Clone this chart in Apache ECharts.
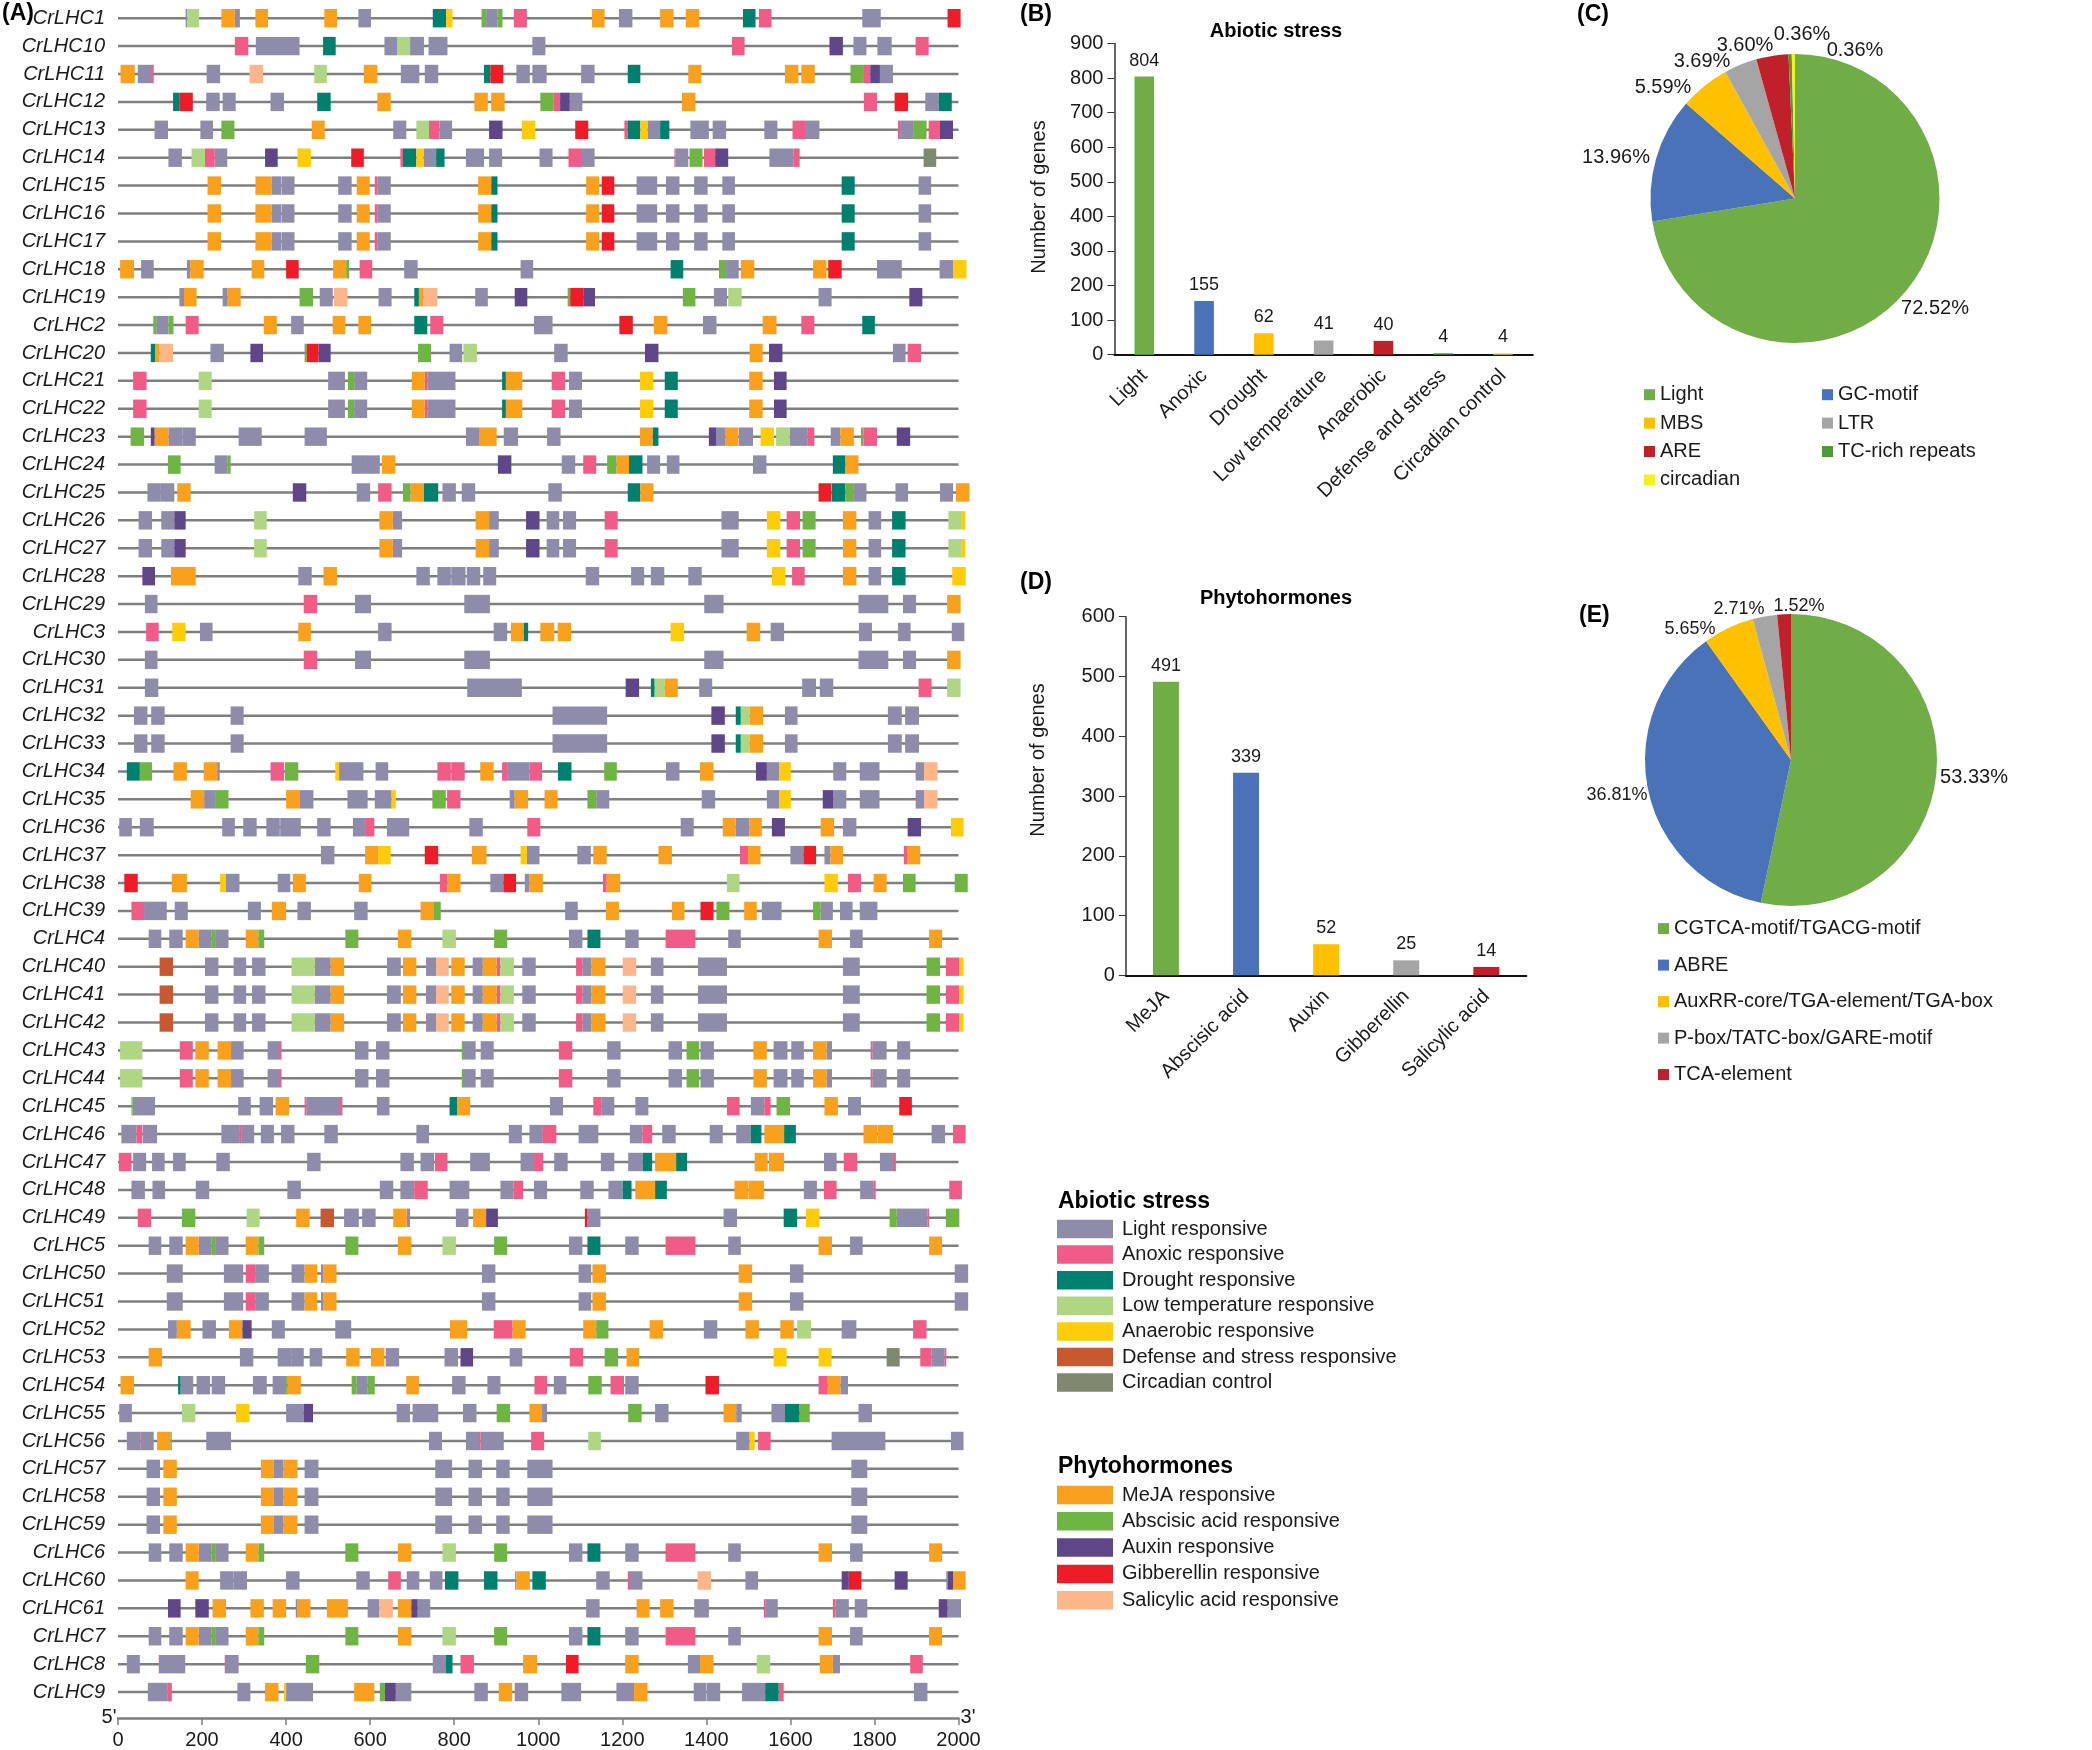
<!DOCTYPE html>
<html><head><meta charset="utf-8">
<style>html,body{margin:0;padding:0;background:#fff}#c{width:2092px;height:1750px}</style>
<script src="https://cdn.jsdelivr.net/npm/echarts@6/dist/echarts.min.js"></script>
</head><body><div id="c"></div>
<script>
// motif classes
const L=0,A=1,D=2,T=3,N=4,F=5,C=6,M=7,B=8,X=9,G=10,S=11;
const motifNames=['Light responsive','Anoxic responsive','Drought responsive','Low temperature responsive','Anaerobic responsive','Defense and stress responsive','Circadian control','MeJA responsive','Abscisic acid responsive','Auxin responsive','Gibberellin responsive','Salicylic acid responsive'];
const motifColors=['#8E8BAB','#F05C87','#00806F','#AFD682','#FFCC0A','#C8582F','#80886F','#F9A01D','#6FB544','#5F4689','#ED1C27','#FDB68A'];
const abioticNames=motifNames.slice(0,7), hormoneNames=motifNames.slice(7);

const CrLHC1=[[L,161,165],[T,165,193],[M,246,278],[L,278,290],[M,327,357],[M,491,521],[L,572,602],[D,749,781],[N,781,796],[B,865,876],[L,876,903],[B,903,915],[A,942,973],[M,1128,1158],[L,1192,1224],[M,1290,1322],[M,1351,1383],[D,1487,1517],[A,1525,1555],[L,1771,1815],[G,1974,2005]];
const CrLHC10=[[A,278,310],[L,328,432],[D,488,518],[L,634,664],[T,664,695],[L,695,728],[L,739,784],[L,986,1017],[A,1461,1491],[X,1693,1725],[L,1750,1781],[L,1807,1841],[A,1898,1929]];
const CrLHC11=[[M,6,40],[L,47,81],[A,81,85],[L,211,243],[S,313,345],[T,467,497],[M,585,617],[L,673,717],[L,730,762],[D,871,886],[G,886,917],[L,948,980],[L,986,1020],[L,1102,1134],[D,1213,1243],[M,1357,1388],[M,1587,1619],[M,1626,1658],[B,1743,1775],[A,1775,1790],[X,1790,1813],[L,1813,1844]];
const CrLHC12=[[D,131,147],[G,147,178],[L,210,242],[L,249,280],[L,363,395],[D,474,506],[M,617,649],[M,848,880],[M,888,920],[B,1005,1037],[A,1037,1052],[X,1052,1075],[L,1075,1105],[M,1342,1374],[A,1775,1806],[G,1848,1880],[L,1921,1953],[D,1953,1984]];
const CrLHC13=[[L,87,119],[L,196,226],[B,246,277],[M,461,492],[L,655,686],[T,710,740],[A,740,765],[L,765,795],[X,883,915],[N,961,993],[G,1088,1119],[A,1205,1213],[D,1213,1243],[N,1243,1260],[L,1260,1290],[D,1290,1312],[L,1362,1406],[L,1415,1447],[L,1538,1569],[A,1605,1637],[L,1637,1669],[A,1856,1861],[L,1861,1892],[B,1892,1924],[A,1929,1956],[X,1956,1987]];
const CrLHC14=[[L,120,152],[T,175,207],[A,207,230],[L,230,260],[X,350,380],[N,427,459],[G,555,585],[A,672,678],[D,678,710],[N,710,727],[L,727,757],[D,757,777],[L,828,871],[L,883,914],[L,1003,1034],[A,1072,1104],[L,1104,1134],[A,1324,1327],[L,1327,1357],[B,1360,1391],[A,1394,1421],[X,1421,1452],[L,1550,1607],[A,1607,1622],[C,1917,1947]];
const CrLHC15=[[M,213,245],[M,327,366],[L,366,388],[L,389,420],[L,524,556],[M,568,599],[A,611,617],[L,617,649],[M,857,888],[D,888,903],[M,1114,1145],[G,1151,1181],[L,1234,1283],[L,1304,1336],[L,1371,1403],[L,1438,1468],[D,1722,1753],[L,1905,1935]];
const CrLHC16=CrLHC15, CrLHC17=CrLHC15;
const CrLHC18=[[M,5,38],[L,55,85],[L,164,172],[M,172,204],[M,318,348],[G,400,430],[M,512,543],[B,543,550],[A,575,605],[L,681,713],[L,958,988],[D,1315,1345],[B,1430,1447],[L,1447,1477],[M,1482,1514],[M,1654,1686],[G,1690,1722],[L,1806,1865],[L,1955,1987],[N,1987,2019]];
const CrLHC19=[[L,146,157],[M,157,187],[L,249,261],[M,261,292],[B,432,464],[L,480,511],[S,514,546],[L,620,651],[D,705,716],[M,716,727],[S,727,760],[L,850,880],[X,944,974],[B,1070,1076],[G,1076,1107],[X,1107,1135],[B,1344,1374],[L,1418,1449],[T,1452,1484],[L,1667,1698],[X,1883,1914]];
const CrLHC2=[[B,84,91],[L,91,120],[B,120,132],[A,161,192],[M,347,378],[L,412,442],[M,511,541],[M,572,602],[D,705,736],[A,743,774],[L,990,1034],[G,1193,1225],[M,1275,1307],[L,1392,1424],[M,1534,1567],[A,1626,1657],[D,1771,1801]];
const CrLHC20=[[D,78,88],[M,88,99],[S,99,131],[L,220,252],[X,315,345],[B,444,449],[G,449,477],[X,477,506],[B,714,745],[L,789,819],[T,822,854],[L,1038,1070],[X,1254,1286],[M,1503,1534],[X,1549,1581],[L,1844,1874],[A,1879,1911]];
const CrLHC21=[[A,36,68],[T,192,223],[L,500,540],[B,547,562],[L,562,593],[M,699,730],[A,730,737],[L,737,803],[D,914,923],[M,923,962],[A,1032,1064],[L,1073,1104],[N,1242,1274],[D,1301,1332],[M,1502,1534],[X,1561,1591]];
const CrLHC22=CrLHC21;
const CrLHC23=[[B,30,62],[X,78,87],[M,87,120],[L,120,154],[L,154,185],[L,287,342],[L,444,497],[L,828,859],[M,859,901],[L,918,952],[L,1021,1053],[M,1242,1272],[D,1272,1286],[X,1406,1423],[L,1423,1446],[M,1446,1476],[L,1477,1511],[N,1529,1561],[T,1566,1598],[L,1598,1640],[A,1640,1657],[L,1696,1719],[M,1719,1751],[B,1768,1774],[A,1774,1806],[X,1853,1885]];
const CrLHC24=[[B,119,149],[L,230,260],[B,260,268],[L,556,590],[L,590,623],[M,628,660],[X,904,936],[L,1056,1088],[A,1107,1138],[B,1164,1186],[M,1186,1216],[D,1216,1248],[L,1259,1290],[L,1306,1336],[L,1511,1543],[D,1701,1731],[M,1731,1762]];
const CrLHC25=[[L,70,102],[L,102,134],[M,141,173],[X,416,448],[L,568,600],[A,619,651],[B,678,696],[M,696,728],[D,728,762],[L,772,804],[L,818,850],[L,1024,1056],[D,1213,1243],[M,1243,1274],[G,1667,1698],[D,1699,1731],[B,1731,1751],[L,1751,1781],[L,1850,1880],[L,1956,1987],[M,1994,2026]];
const CrLHC26=[[L,49,81],[L,103,134],[X,134,161],[T,324,354],[M,622,654],[L,654,676],[M,851,883],[L,883,906],[X,971,1003],[L,1020,1050],[L,1059,1090],[A,1158,1189],[L,1436,1477],[N,1544,1576],[A,1591,1623],[B,1629,1660],[M,1725,1757],[L,1786,1816],[D,1842,1874],[T,1976,2008],[N,2008,2016]];
const CrLHC27=CrLHC26;
const CrLHC28=[[X,58,88],[M,126,185],[L,429,461],[M,489,521],[L,710,742],[L,760,792],[L,793,827],[L,830,862],[L,869,900],[L,1113,1145],[L,1221,1252],[L,1268,1300],[L,1357,1389],[N,1556,1588],[A,1604,1634],[M,1725,1757],[L,1786,1816],[D,1842,1874],[N,1985,2017]];
const CrLHC30=[[L,64,94],[A,442,474],[L,564,602],[L,824,885],[L,1395,1441],[L,1762,1833],[L,1868,1899],[M,1973,2005]];
const CrLHC29=CrLHC30;
const CrLHC3=[[A,67,97],[N,129,161],[L,195,225],[M,429,459],[L,619,651],[L,894,926],[M,935,965],[D,965,976],[M,1005,1038],[M,1046,1078],[N,1315,1347],[M,1496,1528],[L,1553,1585],[L,1763,1794],[L,1856,1886],[L,1984,2014]];
const CrLHC31=[[L,64,96],[L,831,961],[X,1208,1240],[D,1268,1277],[T,1277,1301],[M,1301,1332],[L,1383,1414],[L,1628,1661],[L,1670,1702],[A,1905,1936],[T,1973,2005]];
const CrLHC32=[[L,38,70],[L,79,111],[L,268,299],[L,1034,1164],[X,1412,1444],[D,1470,1482],[T,1482,1503],[M,1503,1535],[L,1587,1617],[L,1832,1865],[L,1873,1906]];
const CrLHC33=CrLHC32;
const CrLHC34=[[D,21,52],[B,52,81],[M,132,164],[M,204,236],[L,236,242],[A,363,395],[B,397,429],[N,517,526],[L,526,584],[L,613,643],[A,760,792],[A,793,825],[M,862,894],[A,914,926],[L,926,979],[A,979,1009],[D,1047,1079],[B,1157,1187],[L,1304,1336],[M,1385,1417],[X,1518,1544],[L,1544,1573],[N,1573,1601],[L,1702,1733],[L,1765,1812],[L,1898,1918],[S,1918,1950]];
const CrLHC35=[[M,173,205],[L,205,231],[B,231,263],[M,400,433],[L,433,465],[L,546,594],[L,611,651],[N,651,661],[B,748,780],[A,783,815],[L,932,944],[M,944,976],[M,1015,1046],[B,1117,1138],[L,1138,1169],[L,1389,1421],[L,1544,1573],[N,1573,1601],[X,1677,1702],[L,1702,1733],[L,1765,1812],[L,1898,1918],[S,1918,1950]];
const CrLHC36=[[L,3,33],[L,52,85],[L,248,278],[L,298,330],[L,353,385],[L,386,435],[L,474,506],[L,559,590],[A,590,610],[L,640,693],[L,836,868],[A,974,1005],[L,1339,1370],[M,1439,1470],[L,1470,1502],[M,1502,1532],[X,1556,1587],[M,1672,1704],[L,1725,1757],[X,1879,1911],[N,1982,2012]];
const CrLHC37=[[L,483,515],[M,588,619],[N,619,649],[G,730,762],[M,842,877],[N,958,973],[L,973,1003],[L,1093,1125],[M,1131,1163],[M,1286,1318],[A,1480,1499],[M,1499,1529],[L,1600,1631],[G,1631,1661],[L,1681,1695],[M,1695,1725],[A,1870,1879],[M,1879,1909]];
const CrLHC38=[[G,15,47],[M,128,164],[N,243,257],[L,257,289],[L,380,410],[M,416,447],[M,573,603],[A,766,784],[M,784,815],[L,886,917],[G,917,947],[L,968,979],[M,979,1011],[A,1154,1163],[M,1163,1195],[T,1449,1479],[N,1681,1713],[A,1737,1768],[M,1798,1829],[B,1868,1898],[B,1991,2022]];
const CrLHC39=[[A,32,62],[L,62,116],[L,135,166],[L,309,340],[M,366,400],[L,427,459],[L,562,594],[M,720,752],[B,752,768],[L,1064,1094],[M,1161,1192],[M,1318,1348],[G,1386,1417],[B,1424,1455],[M,1490,1520],[L,1532,1579],[B,1654,1672],[L,1672,1701],[L,1718,1748],[L,1765,1807]];
const CrLHC4=[[L,73,103],[L,122,154],[M,161,192],[L,192,223],[B,223,233],[L,233,263],[M,304,334],[B,334,348],[B,541,572],[M,666,698],[T,772,804],[B,895,926],[L,1073,1105],[D,1117,1148],[L,1207,1239],[A,1303,1374],[L,1452,1482],[M,1667,1699],[L,1742,1772],[M,1930,1961]];
const CrLHC5=CrLHC4, CrLHC6=CrLHC4, CrLHC7=CrLHC4;
const CrLHC40=[[F,99,131],[L,207,239],[L,275,305],[L,319,351],[T,413,468],[L,468,506],[M,506,538],[L,640,673],[M,678,710],[L,733,757],[S,757,787],[M,793,825],[L,844,868],[M,868,901],[A,901,910],[T,910,942],[L,962,994],[A,1090,1105],[L,1105,1126],[M,1126,1160],[S,1201,1233],[L,1268,1298],[L,1380,1449],[L,1725,1765],[B,1924,1956],[A,1970,2002],[N,2002,2012]];
const CrLHC41=CrLHC40, CrLHC42=CrLHC40;
const CrLHC43=[[T,5,58],[A,147,178],[M,184,216],[M,237,269],[L,269,299],[L,356,383],[A,383,389],[L,564,596],[L,614,646],[B,818,821],[L,821,851],[L,863,894],[A,1049,1081],[L,1164,1196],[L,1310,1342],[B,1353,1383],[L,1386,1418],[M,1512,1544],[L,1560,1593],[L,1602,1632],[M,1654,1686],[L,1686,1699],[A,1791,1795],[L,1795,1829],[L,1854,1885]];
const CrLHC44=CrLHC43;
const CrLHC45=[[B,32,35],[L,35,88],[L,286,316],[L,337,369],[M,375,407],[A,444,448],[L,448,526],[A,526,534],[L,616,646],[D,789,807],[M,807,838],[L,1028,1059],[A,1131,1151],[L,1151,1181],[L,1231,1262],[A,1449,1479],[L,1506,1538],[A,1538,1553],[B,1567,1599],[M,1681,1713],[L,1737,1768],[G,1859,1889]];
const CrLHC46=[[L,8,44],[A,44,58],[L,59,93],[L,246,290],[A,290,293],[L,293,324],[L,340,371],[L,388,420],[L,491,523],[L,710,740],[L,930,961],[L,979,1011],[A,1011,1043],[L,1096,1143],[L,1218,1248],[A,1248,1271],[L,1295,1327],[L,1408,1439],[L,1471,1506],[D,1506,1531],[M,1538,1585],[D,1585,1613],[M,1774,1806],[M,1807,1844],[L,1936,1968],[A,1987,2017]];
const CrLHC47=[[A,2,32],[L,36,67],[L,81,111],[L,131,161],[L,234,266],[L,450,482],[L,672,704],[L,720,752],[A,754,784],[L,838,885],[L,958,990],[A,990,1012],[L,1038,1070],[L,1149,1181],[L,1214,1249],[D,1249,1271],[M,1278,1328],[D,1328,1354],[M,1515,1546],[M,1549,1585],[L,1680,1710],[A,1727,1759],[L,1813,1844],[A,1844,1851]];
const CrLHC48=[[L,32,64],[L,82,112],[L,185,217],[L,403,435],[L,623,655],[L,672,705],[A,705,737],[L,789,836],[L,910,941],[A,941,964],[L,990,1021],[L,1100,1132],[L,1167,1201],[D,1201,1222],[M,1231,1278],[D,1278,1306],[M,1467,1499],[M,1500,1537],[L,1632,1663],[A,1680,1710],[L,1766,1797],[A,1797,1803],[A,1978,2008]];
const CrLHC49=[[A,47,79],[B,152,184],[T,306,337],[M,424,456],[F,482,514],[L,538,573],[L,581,613],[M,655,687],[L,687,695],[L,804,834],[M,845,876],[X,876,904],[G,1111,1117],[L,1117,1148],[L,1441,1473],[D,1584,1616],[N,1637,1669],[B,1836,1853],[L,1853,1926],[A,1926,1930],[B,1970,2002]];
const CrLHC50=[[L,116,154],[L,252,298],[A,304,328],[L,328,359],[L,413,444],[M,444,474],[L,483,488],[M,488,520],[L,866,898],[L,1096,1126],[M,1129,1161],[M,1477,1509],[L,1599,1631],[L,1991,2023]];
const CrLHC51=CrLHC50;
const CrLHC52=[[L,119,140],[M,140,173],[L,201,233],[M,264,296],[X,296,318],[L,366,397],[L,517,555],[M,790,831],[A,894,939],[M,939,970],[M,1107,1138],[B,1138,1167],[M,1265,1297],[L,1394,1426],[M,1493,1525],[M,1576,1608],[T,1616,1649],[L,1722,1757],[A,1892,1924]];
const CrLHC53=[[M,73,105],[L,290,322],[L,380,412],[L,412,442],[L,456,486],[M,543,575],[M,602,634],[L,637,669],[L,777,809],[X,815,845],[L,932,962],[A,1075,1107],[B,1158,1190],[M,1210,1240],[N,1560,1591],[N,1667,1698],[C,1829,1860],[A,1909,1936],[L,1936,1967],[A,1967,1971]];
const CrLHC54=[[M,6,38],[D,143,149],[L,149,179],[L,187,219],[L,223,255],[L,321,354],[L,368,400],[B,400,404],[M,404,435],[B,556,568],[L,568,593],[B,593,611],[M,686,716],[L,795,827],[L,879,910],[A,991,1021],[L,1037,1067],[B,1119,1151],[A,1172,1204],[L,1207,1239],[G,1398,1430],[A,1667,1689],[M,1689,1719],[L,1719,1737]];
const CrLHC55=[[L,3,33],[T,152,184],[N,281,313],[L,400,442],[X,442,464],[L,663,695],[L,701,762],[L,821,853],[B,901,933],[M,979,1009],[L,1009,1021],[B,1214,1246],[L,1278,1310],[M,1441,1471],[L,1471,1484],[L,1555,1587],[D,1587,1622],[B,1622,1646],[L,1762,1794]];
const CrLHC56=[[L,21,50],[A,50,53],[L,53,85],[M,93,125],[B,125,128],[L,210,269],[L,740,771],[L,828,859],[A,859,863],[L,863,918],[A,983,1014],[T,1119,1149],[L,1471,1503],[N,1503,1515],[A,1523,1553],[L,1698,1826],[L,1982,2012]];
const CrLHC57=[[L,68,100],[M,108,140],[M,340,371],[L,371,394],[M,394,427],[L,444,477],[L,755,795],[L,834,866],[L,900,932],[L,974,1034],[L,1745,1783]];
const CrLHC58=CrLHC57, CrLHC59=CrLHC57;
const CrLHC60=[[M,161,192],[L,243,275],[L,275,307],[L,400,432],[L,567,599],[A,643,673],[L,687,717],[L,742,772],[D,778,810],[D,871,903],[L,945,948],[M,948,980],[D,986,1018],[L,1138,1170],[A,1213,1216],[L,1216,1248],[S,1379,1411],[L,1493,1523],[X,1722,1739],[G,1739,1769],[X,1848,1879],[L,1971,1975],[X,1975,1987],[M,1987,2017]];
const CrLHC61=[[X,119,149],[X,184,216],[M,225,257],[M,315,347],[M,368,400],[L,423,426],[M,426,458],[M,497,547],[L,594,622],[S,622,654],[M,666,698],[X,698,713],[L,713,743],[L,1114,1146],[M,1234,1265],[M,1290,1322],[L,1371,1406],[A,1537,1540],[L,1540,1570],[A,1701,1707],[L,1707,1739],[L,1753,1783],[X,1953,1974],[L,1974,2006]];
const CrLHC8=[[L,21,52],[A,97,100],[L,100,160],[A,254,257],[L,257,287],[B,447,479],[L,749,780],[D,780,796],[A,815,847],[M,964,997],[G,1066,1096],[M,1207,1239],[L,1356,1385],[M,1385,1417],[T,1520,1552],[M,1670,1701],[L,1701,1718],[A,1885,1915]];
const CrLHC9=[[L,71,117],[A,117,128],[L,284,315],[M,350,382],[N,395,400],[L,400,464],[M,562,610],[B,623,635],[X,635,661],[L,661,698],[L,848,880],[M,906,938],[L,944,976],[L,1055,1102],[L,1186,1228],[M,1228,1260],[L,1370,1400],[L,1401,1433],[L,1485,1540],[D,1540,1572],[A,1572,1584],[L,1894,1926]];

const geneNames=['CrLHC1','CrLHC10','CrLHC11','CrLHC12','CrLHC13','CrLHC14','CrLHC15','CrLHC16','CrLHC17','CrLHC18','CrLHC19','CrLHC2','CrLHC20','CrLHC21','CrLHC22','CrLHC23','CrLHC24','CrLHC25','CrLHC26','CrLHC27','CrLHC28','CrLHC29','CrLHC3','CrLHC30','CrLHC31','CrLHC32','CrLHC33','CrLHC34','CrLHC35','CrLHC36','CrLHC37','CrLHC38','CrLHC39','CrLHC4','CrLHC40','CrLHC41','CrLHC42','CrLHC43','CrLHC44','CrLHC45','CrLHC46','CrLHC47','CrLHC48','CrLHC49','CrLHC5','CrLHC50','CrLHC51','CrLHC52','CrLHC53','CrLHC54','CrLHC55','CrLHC56','CrLHC57','CrLHC58','CrLHC59','CrLHC6','CrLHC60','CrLHC61','CrLHC7','CrLHC8','CrLHC9'];
const geneMotifs=[CrLHC1,CrLHC10,CrLHC11,CrLHC12,CrLHC13,CrLHC14,CrLHC15,CrLHC16,CrLHC17,CrLHC18,CrLHC19,CrLHC2,CrLHC20,CrLHC21,CrLHC22,CrLHC23,CrLHC24,CrLHC25,CrLHC26,CrLHC27,CrLHC28,CrLHC29,CrLHC3,CrLHC30,CrLHC31,CrLHC32,CrLHC33,CrLHC34,CrLHC35,CrLHC36,CrLHC37,CrLHC38,CrLHC39,CrLHC4,CrLHC40,CrLHC41,CrLHC42,CrLHC43,CrLHC44,CrLHC45,CrLHC46,CrLHC47,CrLHC48,CrLHC49,CrLHC5,CrLHC50,CrLHC51,CrLHC52,CrLHC53,CrLHC54,CrLHC55,CrLHC56,CrLHC57,CrLHC58,CrLHC59,CrLHC6,CrLHC60,CrLHC61,CrLHC7,CrLHC8,CrLHC9];

const abioticCats=['Light','Anoxic','Drought','Low temperature','Anaerobic','Defense and stress','Circadian control'];
const abioticVals=[804,155,62,41,40,4,4];
const abioticColors=['#70AD47','#4A72B8','#FFC000','#A5A5A5','#C0202A','#4E8A3A','#E8DE30'];
const hormoneCats=['MeJA','Abscisic acid','Auxin','Gibberellin','Salicylic acid'];
const hormoneVals=[491,339,52,25,14];
const hormoneColors=['#70AD47','#4A72B8','#FFC000','#A5A5A5','#C0202A'];
const pieCNames=['Light','GC-motif','MBS','LTR','ARE','TC-rich repeats','circadian'];
const pieCVals=[72.52,13.96,5.59,3.69,3.60,0.36,0.36];
const pieCColors=['#70AD47','#4A72B8','#FFC000','#A5A5A5','#C0202A','#4E9A3A','#F2F01E'];
const pieCLabelAt=[[1935,308],[1616,157],[1663,87],[1702,61],[1745,45],[1802,34],[1855,50]];
const pieENames=['CGTCA-motif/TGACG-motif','ABRE','AuxRR-core/TGA-element/TGA-box','P-box/TATC-box/GARE-motif','TCA-element'];
const pieEVals=[53.33,36.81,5.65,2.71,1.52];
const pieEColors=['#70AD47','#4A72B8','#FFC000','#A5A5A5','#C0202A'];
const pieELabelAt=[[1974,777],[1617,795],[1690,629],[1739,609],[1799,606]];

const FONT='"Liberation Sans",Arial,sans-serif';
const INK='#1a1a1a';

function boxItem(params,api){
  const row=api.value(0), s=api.coord([api.value(1),row]), e=api.coord([api.value(2),row]);
  const h=api.size([0,1])[1];
  return {type:'rect',shape:{x:s[0],y:s[1]-h*0.33,width:e[0]-s[0],height:h*0.66},style:{fill:api.visual('color')}};
}
function lineItem(params,api){
  const row=api.value(0), s=api.coord([0,row]), e=api.coord([2000,row]);
  return {type:'rect',shape:{x:s[0],y:s[1]-1.25,width:e[0]-s[0],height:2.5},style:{fill:'#7F7F7F'}};
}
const motifSeries=motifNames.map((name,k)=>{
  const data=[];
  geneMotifs.forEach((list,row)=>list.forEach(m=>{if(m[0]===k)data.push([row,m[1],m[2]]);}));
  return {type:'custom',name,xAxisIndex:0,yAxisIndex:0,renderItem:boxItem,itemStyle:{color:motifColors[k]},
    encode:{x:[1,2],y:0},data,z:3,silent:true,animation:false};
});
function barSeries(xi,vals,colors,w){
  return {type:'bar',xAxisIndex:xi,yAxisIndex:xi,barWidth:w,silent:true,animation:false,
    data:vals.map((v,i)=>({value:v,itemStyle:{color:colors[i]}})),
    label:{show:true,position:'top',distance:7,fontFamily:FONT,fontSize:18,color:INK}};
}
function barGrid(xi,cats,max,nameGap,namePad){
  return {
    x:{type:'category',gridIndex:xi,data:cats,boundaryGap:true,
      axisLine:{lineStyle:{color:'#111',width:2}},axisTick:{alignWithLabel:true,length:7,lineStyle:{color:'#333'}},
      axisLabel:{interval:0,rotate:45,margin:18,fontFamily:FONT,fontSize:20,color:INK}},
    y:{type:'value',gridIndex:xi,min:0,max,interval:100,name:'Number of genes',nameLocation:'middle',nameRotate:90,nameGap,
      nameTextStyle:{fontFamily:FONT,fontSize:20,color:INK,padding:[0,0,0,namePad]},splitLine:{show:false},
      axisLine:{show:true,lineStyle:{color:'#333',width:1.5}},axisTick:{show:true,length:7,lineStyle:{color:'#333'}},
      axisLabel:{margin:11,fontFamily:FONT,fontSize:20,color:INK}}
  };
}
const gB=barGrid(1,abioticCats,900,65,4), gD=barGrid(2,hormoneCats,600,77,72);
function pieSeries(names,vals,colors,at,center,r,size){
  return {type:'pie',center,radius:[0,r],startAngle:90,clockwise:true,silent:true,animation:false,avoidLabelOverlap:false,
    data:names.map((n,i)=>({name:n,value:vals[i],itemStyle:{color:colors[i]},
      label:{fontSize:size[i]}})),
    label:{show:true,position:'outside',fontFamily:FONT,color:INK,formatter:p=>p.value.toFixed(2)+'%'},
    labelLine:{show:false},
    labelLayout:p=>({x:at[p.dataIndex][0],y:at[p.dataIndex][1],align:'center',verticalAlign:'middle'})};
}
function swatchLegend(names,left,top,size,gap,pad){
  return {data:names,orient:'vertical',left,top,padding:0,itemWidth:size[0],itemHeight:size[1],itemGap:gap,
    icon:'rect',selectedMode:false,textStyle:{fontFamily:FONT,fontSize:20,color:INK,lineHeight:20,padding:pad}};
}
function heading(text,x,y,size,align){
  return {text,left:x,top:y,textAlign:align||'left',textVerticalAlign:'middle',padding:0,
    textStyle:{fontFamily:FONT,fontSize:size,fontWeight:'bold',color:'#000'}};
}

const chart=echarts.init(document.getElementById('c'),null,{renderer:'canvas',width:2092,height:1750});
chart.setOption({
  backgroundColor:'#fff',animation:false,
  title:[
    heading('(A)',2,14,23),heading('(B)',1020,15,23),heading('(C)',1577,15,23),heading('(D)',1020,583,23),heading('(E)',1579,616,23),
    heading('Abiotic stress',1276,31,20,'center'),heading('Phytohormones',1276,598,20,'center'),
    heading('Abiotic stress',1058,1202,23),heading('Phytohormones',1058,1467,23)
  ],
  grid:[
    {left:118,width:840.5,top:4.25,height:1702},
    {left:1114.4,width:418.5,top:43.4,height:311.3},
    {left:1125.9,width:400.5,top:616.7,height:358.6}
  ],
  xAxis:[
    {type:'value',gridIndex:0,min:0,max:2000,interval:200,position:'bottom',offset:12,splitLine:{show:false},
     axisLine:{show:true,onZero:false,lineStyle:{color:'#7F7F7F',width:2.5}},axisTick:{show:true,length:7,lineStyle:{color:'#7F7F7F',width:1.5}},
     axisLabel:{margin:12,fontFamily:FONT,fontSize:20,color:INK,formatter:v=>String(v)}},
    gB.x,gD.x
  ],
  yAxis:[
    {type:'category',gridIndex:0,data:geneNames,inverse:true,axisLine:{show:false},axisTick:{show:false},splitLine:{show:false},
     axisLabel:{interval:0,margin:13,fontFamily:FONT,fontSize:20,fontStyle:'italic',color:INK}},
    gB.y,gD.y
  ],
  legend:[
    swatchLegend(abioticNames,1057,1216.5,[56,18.5],0.6,[5,0,0,4]),
    swatchLegend(hormoneNames,1057,1482,[56,18.5],0.3,[6,0,0,4]),
    swatchLegend(['Light','MBS','ARE','circadian'],1644,384.7,[11,11],8.4,[0,0,0,0]),
    swatchLegend(['GC-motif','LTR','TC-rich repeats'],1822,384.7,[11,11],8.4,[0,0,0,0]),
    swatchLegend(pieENames,1658,918.6,[11,11],16.5,[0,0,0,0])
  ],
  graphic:[
    {type:'text',x:109,y:1717,style:{text:"5'",font:'20px "Liberation Sans"',fill:INK,textAlign:'center',textVerticalAlign:'middle'}},
    {type:'text',x:968,y:1717,style:{text:"3'",font:'20px "Liberation Sans"',fill:INK,textAlign:'center',textVerticalAlign:'middle'}}
  ],
  series:[
    {type:'custom',name:'gene',xAxisIndex:0,yAxisIndex:0,renderItem:lineItem,encode:{y:0},data:geneNames.map((g,i)=>[i]),z:2,silent:true,animation:false},
    ...motifSeries,
    barSeries(1,abioticVals,abioticColors,19.6),
    barSeries(2,hormoneVals,hormoneColors,26),
    pieSeries(pieCNames,pieCVals,pieCColors,pieCLabelAt,[1795,198.5],144.5,[20,20,20,20,20,20,20]),
    pieSeries(pieENames,pieEVals,pieEColors,pieELabelAt,[1791,760],146,[20,18,18,18,18])
  ]
});
</script></body></html>
